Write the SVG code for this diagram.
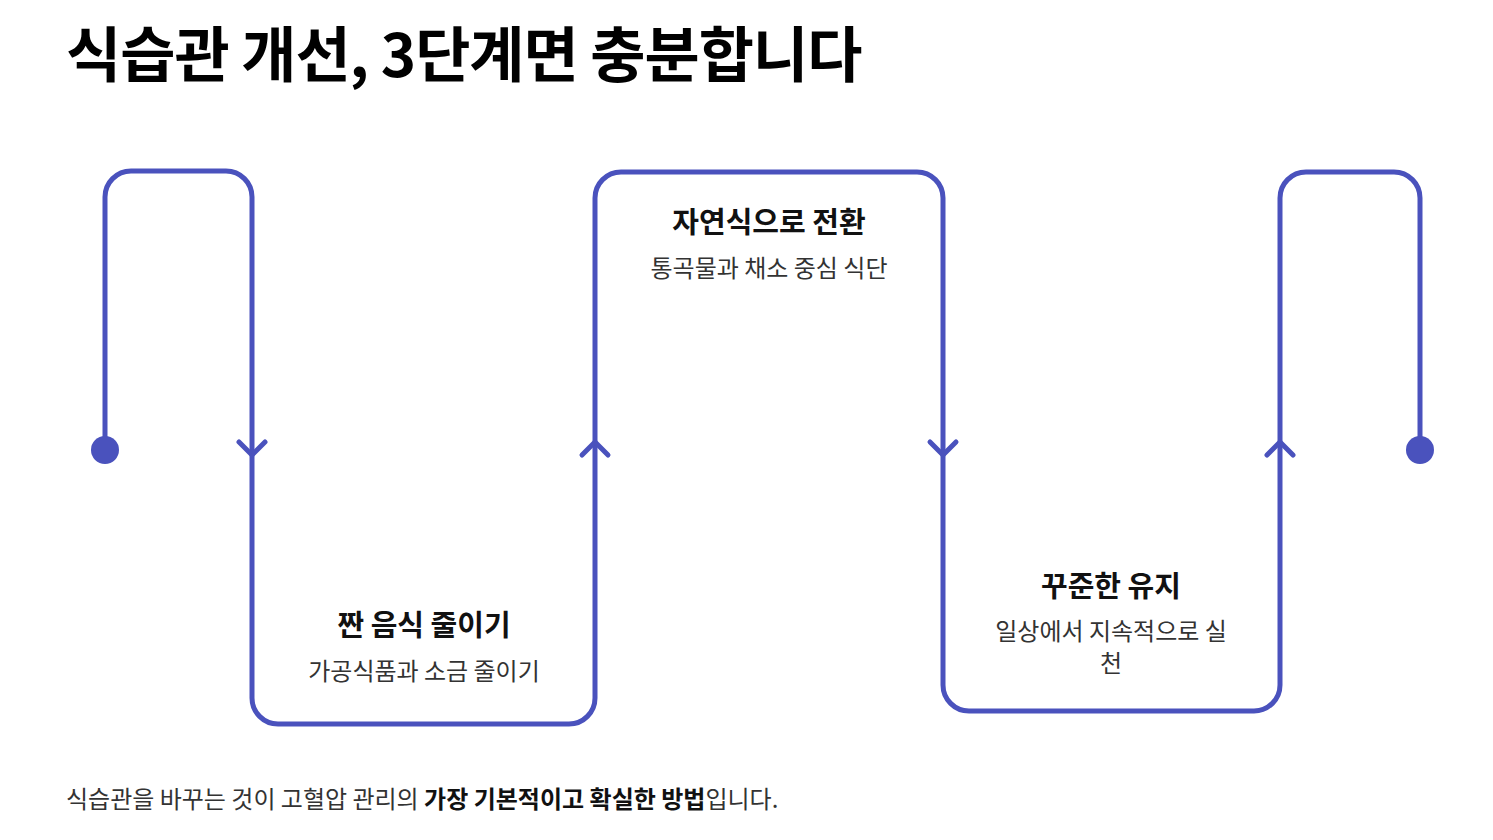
<svg xmlns="http://www.w3.org/2000/svg" width="1493" height="840" viewBox="0 0 1493 840">
<style>
.ttl{font-family:"Noto Sans CJK KR","Noto Sans",sans-serif;font-weight:700;fill:#000}
.nt{font-family:"Noto Sans CJK KR","Noto Sans",sans-serif;font-weight:700;font-size:29px;fill:#111;text-anchor:middle}
.ns{font-family:"Noto Sans CJK KR","Noto Sans",sans-serif;font-weight:400;font-size:24px;fill:#333;text-anchor:middle}
.ft{font-family:"Noto Sans CJK KR","Noto Sans",sans-serif;font-size:24px;fill:#333}
.ln{fill:none;stroke:#4a52bd;stroke-width:5;stroke-linecap:round;stroke-linejoin:round}
.dot{fill:#4a52bd}
</style>
<rect width="1493" height="840" fill="#fff"/>
<text class="ttl" x="66" y="77" font-size="60" letter-spacing="-1">식습관 개선, 3단계면 충분합니다</text>
<g id="connectors">
<path class="ln" d="M105,450 V197 A26,26 0 0 1 131,171 H226 A26,26 0 0 1 252,197 V698 A26,26 0 0 0 278,724 H569 A26,26 0 0 0 595,698 V198 A26,26 0 0 1 621,172 H917 A26,26 0 0 1 943,198 V685 A26,26 0 0 0 969,711 H1254 A26,26 0 0 0 1280,685 V198 A26,26 0 0 1 1306,172 H1394 A26,26 0 0 1 1420,198 V450"/>
<path class="ln" d="M239,442 L252,455 L265,442"/>
<path class="ln" d="M582,455 L595,442 L608,455"/>
<path class="ln" d="M930,442 L943,455 L956,442"/>
<path class="ln" d="M1267,455 L1280,442 L1293,455"/>
<circle class="dot" cx="105" cy="450" r="14"/>
<circle class="dot" cx="1420" cy="450" r="14"/>
</g>
<g id="step1">
<text class="nt" x="424" y="636">짠 음식 줄이기</text>
<text class="ns" x="424" y="680">가공식품과 소금 줄이기</text>
</g>
<g id="step2">
<text class="nt" x="769" y="233">자연식으로 전환</text>
<text class="ns" x="769" y="277">통곡물과 채소 중심 식단</text>
</g>
<g id="step3">
<text class="nt" x="1111" y="597">꾸준한 유지</text>
<text class="ns" x="1111" y="640">일상에서 지속적으로 실</text>
<text class="ns" x="1111" y="672">천</text>
</g>
<text class="ft" x="66" y="808">식습관을 바꾸는 것이 고혈압 관리의 <tspan font-weight="700" fill="#111">가장 기본적이고 확실한 방법</tspan>입니다.</text>
</svg>
